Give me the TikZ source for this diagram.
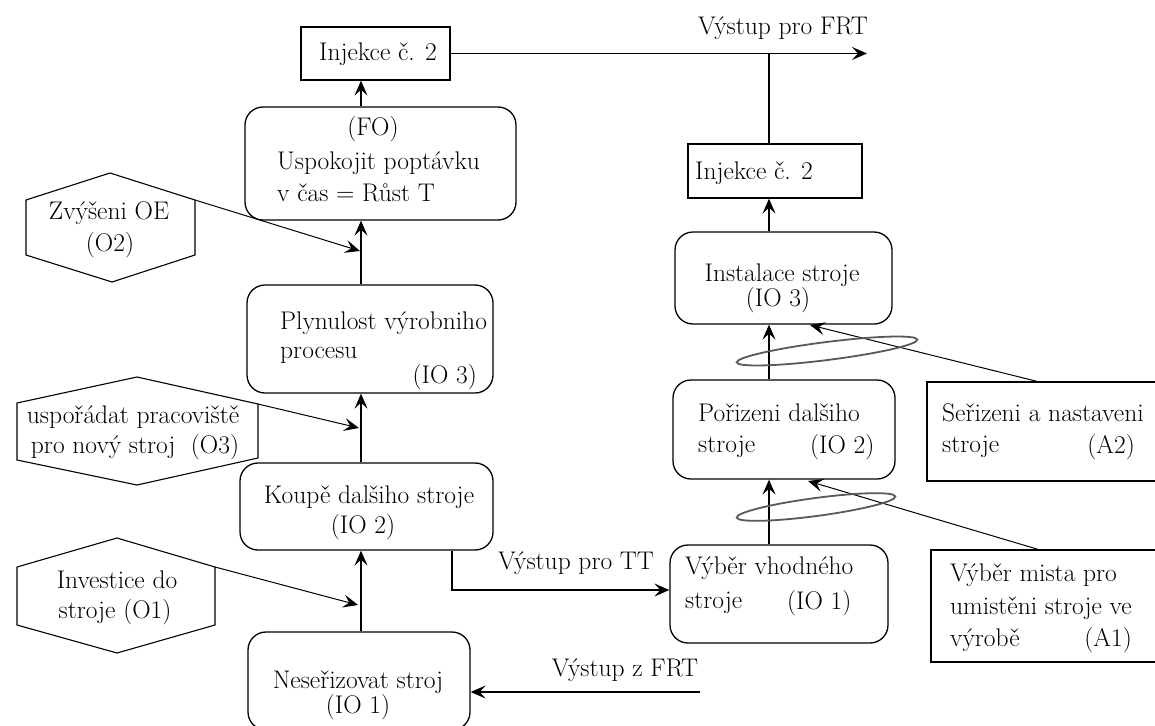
\documentclass[tikz,border=0pt]{standalone}
\usepackage{fontspec}
\usetikzlibrary{arrows.meta,fit}
\begin{document}
\begin{tikzpicture}[x=1pt,y=-1pt,
  box/.style={draw, line width=1.3pt, inner sep=0pt},
  rbox/.style={box, rounded corners=18pt},
  hexa/.style={draw, line width=1.1pt, line join=miter},
  txt/.style={inner sep=0pt, font=\rmfamily\fontsize{25.5}{30}\selectfont},
  arr/.style={line width=1.3pt, -{Stealth[length=15pt,width=13pt,inset=6pt]}},
  ln/.style={line width=1.3pt},
  ring/.style={draw=black!65, line width=1.8pt}]
\useasboundingbox[fill=white] (0,0) rectangle (1155,725);

% ---------- boxes ----------
\node[box,  fit={(301,27)(450,80)}]    (inj1) {};
\node[rbox, fit={(245,107)(516,220)}]  (fo) {};
\node[rbox, fit={(247,285)(493,393)}]  (plyn) {};
\node[rbox, fit={(240,463)(493,550)}]  (koupe) {};
\node[rbox, fit={(248,632)(470,730)}]  (nes) {};
\node[box,  fit={(688,144)(862,198)}]  (inj2) {};
\node[rbox, fit={(675,232)(892,324)}]  (inst) {};
\node[rbox, fit={(673,380)(895,479)}]  (pori) {};
\node[rbox, fit={(670,545)(888,643)}]  (vyber) {};
\node[box,  fit={(927,382)(1170,481)}] (a2) {};
\node[box,  fit={(931,550)(1170,662)}] (a1) {};

% ---------- hexagons ----------
\draw[hexa] (110,173) -- (195,200) coordinate (o2r) -- (195,255) -- (112,282) -- (26,255) -- (26,200) -- cycle;
\draw[hexa] (137,377) -- (258,404) coordinate (o3r) -- (258,458) -- (137,485) -- (17,460) -- (17,403) -- cycle;
\draw[hexa] (117,538) -- (215,567) coordinate (o1r) -- (215,625) -- (117,653) -- (17,625) -- (17,567) -- cycle;

% ---------- texts ----------
\node[txt] (t-inj1) at (378,54) {Injekce č. 2};
\node[txt] (t-fo1) at (373,129) {(FO)};
\node[txt, anchor=west] (t-fo2) at (277,163) {Uspokojit poptávku};
\node[txt, anchor=west] (t-fo3) at (277,193) {v čas = Růst T};
\node[txt] (t-o2a) at (109,213) {Zvýšeni OE};
\node[txt] (t-o2b) at (110,245) {(O2)};
\node[txt, anchor=west] (t-pl1) at (280,323) {Plynulost výrobniho};
\node[txt, anchor=west] (t-pl2) at (280,355) {procesu};
\node[txt, anchor=east] (t-pl3) at (477,377) {(IO 3)};
\node[txt] (t-o3a) at (133,417) {uspořádat pracoviště};
\node[txt] (t-o3b) at (135,447) {pro nový stroj\ \ (O3)};
\node[txt] (t-ko1) at (369,497) {Koupě dalšiho stroje};
\node[txt] (t-ko2) at (363,527) {(IO 2)};
\node[txt] (t-o1a) at (117,580) {Investice do};
\node[txt] (t-o1b) at (115,612) {stroje (O1)};
\node[txt] (t-ne1) at (358,682) {Neseřizovat stroj};
\node[txt] (t-ne2) at (358,707) {(IO 1)};
\node[txt, anchor=west] (t-inj2) at (695,173) {Injekce č. 2};
\node[txt] (t-in1) at (782,275) {Instalace stroje};
\node[txt] (t-in2) at (778,300) {(IO 3)};
\node[txt, anchor=west] (t-po1) at (698,413) {Pořizeni dalšiho};
\node[txt, anchor=west] (t-po2) at (698,447) {stroje};
\node[txt, anchor=west] (t-po3) at (810,447) {(IO 2)};
\node[txt, anchor=west] (t-a2a) at (942,413) {Seřizeni a nastaveni};
\node[txt, anchor=west] (t-a2b) at (942,447) {stroje};
\node[txt, anchor=east] (t-a2c) at (1135,447) {(A2)};
\node[txt, anchor=west] (t-vy1) at (685,568) {Výběr vhodného};
\node[txt, anchor=west] (t-vy2) at (685,603) {stroje};
\node[txt, anchor=west] (t-vy3) at (787,603) {(IO 1)};
\node[txt, anchor=west] (t-a1a) at (950,575) {Výběr mista pro};
\node[txt, anchor=west] (t-a1b) at (950,608) {umistěni stroje ve};
\node[txt, anchor=west] (t-a1c) at (950,640) {výrobě};
\node[txt, anchor=east] (t-a1d) at (1132,640) {(A1)};
\node[txt] (l-frt) at (783,28) {Výstup pro FRT};
\node[txt] (l-tt) at (576,563) {Výstup pro TT};
\node[txt] (l-zfrt) at (625,670) {Výstup z FRT};

% ---------- helper coordinates ----------
\coordinate (sp) at (361,0);
\coordinate (rs) at (769,0);
\coordinate (frtout) at (867,53.5);
\coordinate (tt0) at (452,0);
\coordinate (frtin) at (700,692);
\coordinate (j2) at (360,251);
\coordinate (j3) at (359,428);
\coordinate (j1) at (358,605);
\coordinate (ja2) at (810,325);
\coordinate (ja1) at (808,481);
\coordinate (a2s) at (1037,0);
\coordinate (a1s) at (1038,0);

% ---------- connectors ----------
\draw[arr] (nes.north -| sp) -- (koupe.south -| sp);
\draw[arr] (koupe.north -| sp) -- (plyn.south -| sp);
\draw[arr] (plyn.north -| sp) -- (fo.south -| sp);
\draw[arr] (fo.north -| sp) -- (inj1.south -| sp);
\draw[arr] (inj1.east) -- (frtout);
\draw[ln] (inj2.north -| rs) -- (rs |- frtout);
\draw[arr] (inst.north -| rs) -- (inj2.south -| rs);
\draw[arr] (pori.north -| rs) -- (inst.south -| rs);
\draw[arr] (vyber.north -| rs) -- (pori.south -| rs);
\draw[arr] (koupe.south -| tt0) |- (vyber.west |- 0,590);
\draw[arr] (frtin) -- (nes.east |- frtin);
\draw[arr, line width=1pt] (o2r) -- (j2);
\draw[arr, line width=1pt] (o3r) -- (j3);
\draw[arr, line width=1pt] (o1r) -- (j1);
\draw[arr, line width=1pt] (a2.north -| a2s) -- (ja2);
\draw[arr, line width=1pt] (a1.north -| a1s) -- (ja1);

% ---------- rings ----------
\draw[ring, rotate around={7.2:(827,351)}] (827,351) ellipse (91 and 9);
\draw[ring, rotate around={7.6:(816,507)}] (816,507) ellipse (80 and 9);
\end{tikzpicture}
\end{document}
